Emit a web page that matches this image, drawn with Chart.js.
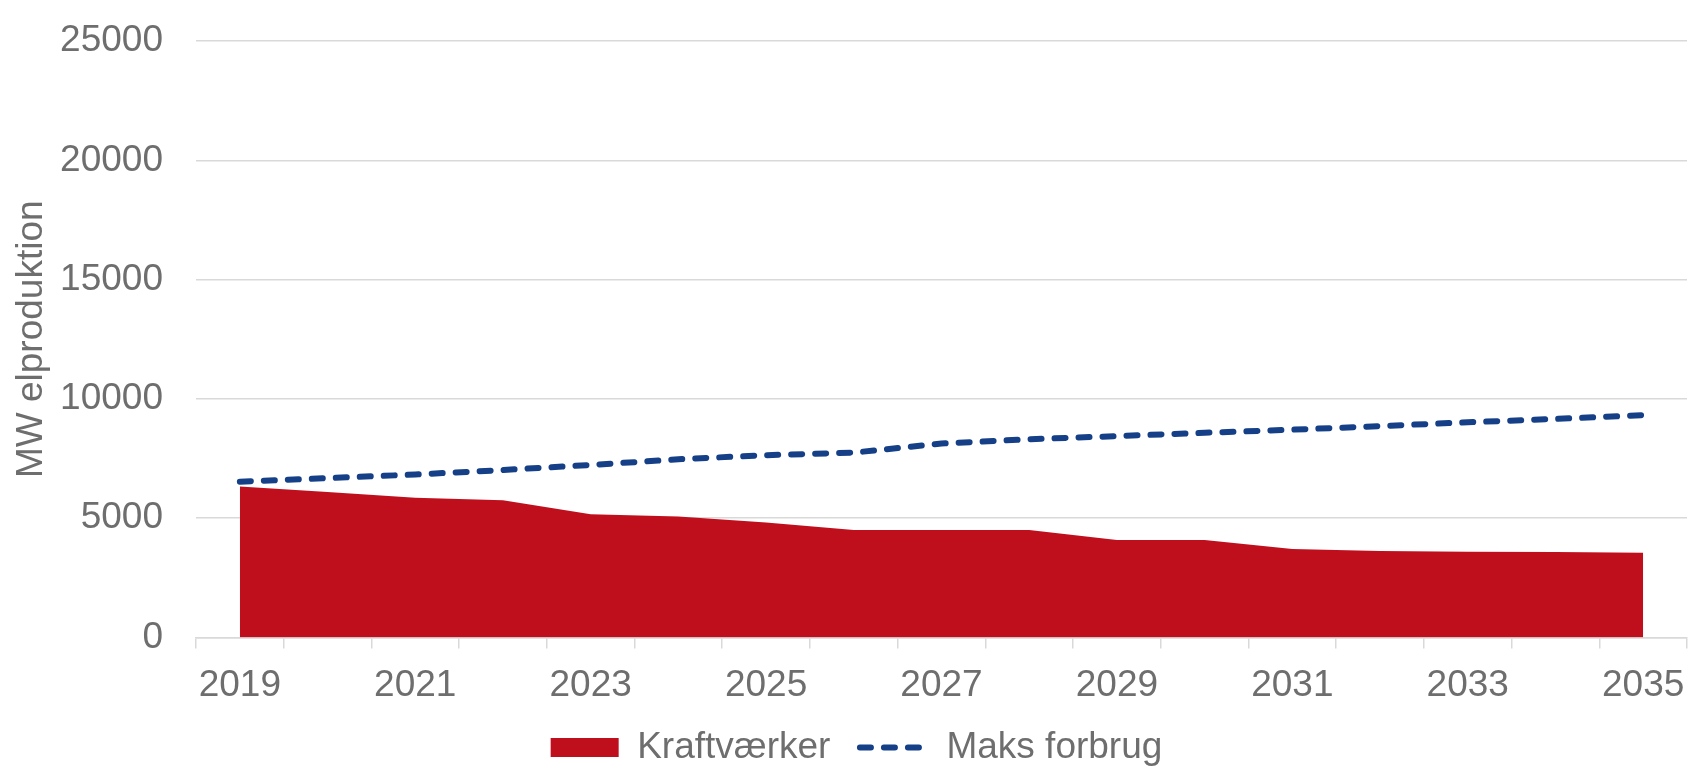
<!DOCTYPE html>
<html>
<head>
<meta charset="utf-8">
<script src="https://cdn.jsdelivr.net/npm/chart.js@4/dist/chart.umd.min.js"></script>
<style>
    body { margin: 0; background: #fff; }
    #wrap { width: 1691px; height: 768px; position: relative; }
</style>
</head>
<body>
<div id="wrap"><canvas id="elChart"></canvas></div>
<script>
const years = ['2019', '2020', '2021', '2022', '2023', '2024', '2025', '2026', '2027',
    '2028', '2029', '2030', '2031', '2032', '2033', '2034', '2035'];
const kraftvaerker = [6330, 6100, 5860, 5750, 5170, 5070, 4820, 4510, 4510,
    4510, 4090, 4090, 3710, 3630, 3590, 3580, 3550];
const maksForbrug = [6530, 6680, 6830, 7020, 7230, 7470, 7640, 7750, 8130,
    8310, 8440, 8580, 8710, 8860, 9020, 9160, 9320];
const yTicks = [0, 5000, 10000, 15000, 20000, 25000];

const textColor = '#6e6e6e';
const gridColor = '#d9d9d9';
const fontFamily = '"Liberation Sans", Arial, sans-serif';
const font = {family: fontFamily, size: 37};

new Chart(document.getElementById('elChart'), {
    type: 'line',
    data: {
        labels: years,
        datasets: [{
            label: 'Kraftværker',
            data: kraftvaerker,
            backgroundColor: '#c00f1c',
            borderColor: '#c00f1c',
            borderWidth: 0,
            fill: 'origin',
            pointRadius: 0,
            pointStyle: 'rect',
            tension: 0
        }, {
            label: 'Maks forbrug',
            data: maksForbrug,
            borderColor: '#153f87',
            backgroundColor: '#153f87',
            borderWidth: 6,
            borderDash: [11, 13],
            borderCapStyle: 'round',
            fill: false,
            pointRadius: 0,
            pointStyle: 'line',
            tension: 0
        }]
    },
    options: {
        responsive: true,
        maintainAspectRatio: false,
        animation: false,
        layout: {padding: {top: 41, right: 4, bottom: -8, left: 26}},
        scales: {
            x: {
                offset: true,
                grid: {display: true, drawOnChartArea: false, offset: true, tickLength: 11, color: gridColor, lineWidth: 1.5},
                border: {color: gridColor, width: 1.5},
                ticks: {
                    autoSkip: false, maxRotation: 0, padding: 0, color: textColor,
                    // tall line box pushes the labels down without extra side padding
                    font: {family: fontFamily, size: 37, lineHeight: 2.0},
                    callback: (v, i) => i % 2 === 0 ? years[i] : ''
                },
                afterFit: (scale) => { scale.height = 62; }
            },
            y: {
                min: 0,
                max: 25000,
                afterBuildTicks: (scale) => { scale.ticks = yTicks.map(v => ({value: v})); },
                grid: {color: gridColor, lineWidth: 1.5, drawTicks: true, tickLength: 33, tickColor: 'rgba(0,0,0,0)'},
                border: {display: false},
                ticks: {padding: 0, color: textColor, font: font, callback: (v) => String(v)},
                title: {display: true, text: 'MW elproduktion', color: textColor, font: font, padding: {top: -16, bottom: 0}},
                afterFit: (scale) => { scale.width = 170; }
            }
        },
        plugins: {
            tooltip: {enabled: false},
            legend: {
                position: 'bottom',
                labels: {
                    usePointStyle: true,
                    pointStyleWidth: 68,
                    boxHeight: 19,
                    padding: 29.5,
                    color: textColor,
                    font: font,
                    generateLabels: (chart) => chart.data.datasets.map((ds, i) => ({
                        text: ds.label,
                        fillStyle: ds.backgroundColor,
                        strokeStyle: ds.borderColor,
                        lineWidth: ds.borderWidth,
                        lineDash: ds.borderDash || [],
                        lineCap: ds.borderCapStyle || 'butt',
                        pointStyle: ds.pointStyle,
                        fontColor: textColor,
                        hidden: false,
                        datasetIndex: i
                    }))
                }
            }
        }
    }
});
</script>
</body>
</html>
